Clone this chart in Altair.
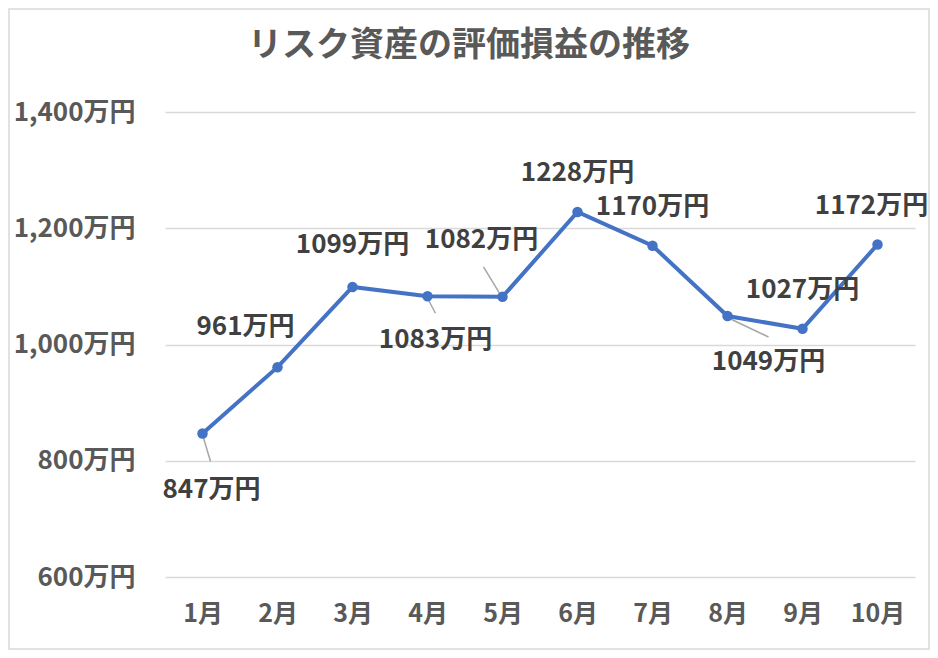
import altair as alt
import pandas as pd

months = ["1月", "2月", "3月", "4月", "5月", "6月", "7月", "8月", "9月", "10月"]
values = [847, 961, 1099, 1083, 1082, 1228, 1170, 1049, 1027, 1172]
y_ticks = [600, 800, 1000, 1200, 1400]
title_text = "リスク資産の評価損益の推移"

# label placement offsets (pixels) relative to each point
label_dx = [9, -32, 0, 8, -21, 0, 0, 41, 0, -6]
label_dy = [57, -40, -42, 44, -57, -39, -39, 46, -39, -39]
# leader lines: (month index, start dx, start dy, end dx, end dy)
leaders = [(0, 0, 1, 8, 28), (3, 0, 2, 8, 17), (4, -19, -30, -2, -2), (7, 1, 2, 41, 21)]

FONT = "Noto Sans CJK JP"
df = pd.DataFrame({"month": months, "value": values,
                   "label": [f"{v}万円" for v in values],
                   "idx": list(range(len(months)))})

W, H = 750, 465
PL, PT, PR, PB = 157, 104, 15, 73

xenc = alt.X("month:N", sort=months, scale=alt.Scale(type="point", padding=0.5),
             axis=alt.Axis(title=None, labelAngle=0, labelFont=FONT, labelFontSize=25,
                           labelFontWeight="bold", labelColor="#595959", labelPadding=24,
                           domain=False, ticks=False, grid=False))
yenc = alt.Y("value:Q", scale=alt.Scale(domain=[600, 1400], nice=False, zero=False),
             axis=alt.Axis(title=None, values=y_ticks, labelExpr="format(datum.value, ',') + '万円'",
                           labelFont=FONT, labelFontSize=26, labelFontWeight="bold",
                           labelColor="#595959", labelPadding=30, domain=False, ticks=False,
                           grid=True, gridColor="#d9d9d9", gridWidth=1.3))

xs = alt.X("month:N", sort=months)
base = alt.Chart(df)
line = base.mark_line(color="#4472C4", strokeWidth=4).encode(x=xenc, y=yenc)
pts = base.mark_circle(color="#4472C4", size=110, opacity=1).encode(x=xs, y="value:Q")

layers = [line]
for (i, sx, sy, ex, ey) in leaders:
    layers.append(
        base.transform_filter(alt.datum.idx == i)
        .mark_rule(color="#a6a6a6", strokeWidth=1.5, xOffset=sx, yOffset=sy, x2Offset=ex, y2Offset=ey)
        .encode(x=xs, x2="month:N", y="value:Q", y2="value:Q")
    )
layers.append(pts)
for i in range(len(months)):
    layers.append(
        base.transform_filter(alt.datum.idx == i)
        .mark_text(font=FONT, fontSize=26, fontWeight="bold", color="#404040",
                   dx=label_dx[i], dy=label_dy[i], baseline="middle", align="center")
        .encode(x=xs, y="value:Q", text="label:N")
    )

title = alt.Chart(pd.DataFrame({"t": [title_text]})).mark_text(
    font=FONT, fontSize=34, fontWeight="bold", color="#595959", align="center", baseline="middle"
).encode(x=alt.value(469 - 8 - PL), y=alt.value(46 - 8 - PT), text="t:N")
layers.append(title)

border = alt.Chart(pd.DataFrame({"a": [0]})).mark_rect(fill=None, stroke="#d9d9d9", strokeWidth=1.5).encode(
    x=alt.value(-PL + 1), x2=alt.value(W + PR - 1), y=alt.value(-PT + 1), y2=alt.value(H + PB - 1))
layers.append(border)

chart = alt.layer(*layers).properties(
    width=W, height=H,
    autosize=alt.AutoSizeParams(type="none"),
    padding={"left": PL, "top": PT, "right": PR, "bottom": PB},
    background="white",
).configure_view(stroke=None)

chart.save("out.html", embed_options={"renderer": "svg", "actions": False})
